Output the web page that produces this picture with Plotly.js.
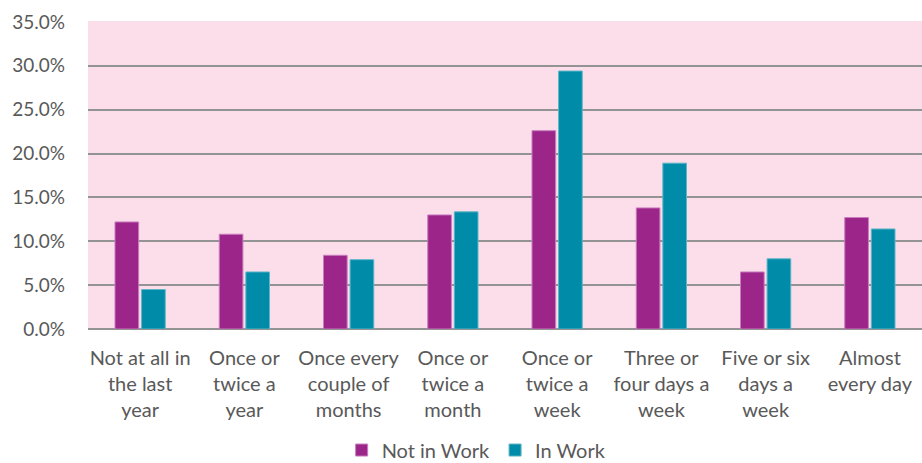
<!DOCTYPE html>
<html>
<head>
<meta charset="utf-8">
<script src="https://cdn.plot.ly/plotly-3.0.1.min.js"></script>
<style>html,body{margin:0;padding:0;background:#fff;}#chart{width:922px;height:463px;}</style>
</head>
<body>
<div id="chart"></div>
<script>
var categories = [
  "Not at all in<br>the last<br>year",
  "Once or<br>twice a<br>year",
  "Once every<br>couple of<br>months",
  "Once or<br>twice a<br>month",
  "Once or<br>twice a<br>week",
  "Three or<br>four days a<br>week",
  "Five or six<br>days a<br>week",
  "Almost<br>every day"
];
var notInWork = [12.2, 10.8, 8.4, 13.0, 22.6, 13.8, 6.5, 12.7];
var inWork    = [4.5, 6.5, 7.9, 13.35, 29.4, 18.9, 8.0, 11.4];
var seriesNames = ["Not in Work", "In Work"];
var yTicks = [0, 5, 10, 15, 20, 25, 30, 35];
var yTickText = yTicks.map(function (v) { return v.toFixed(1) + "%"; });

var FONT = "Lato, 'Open Sans', sans-serif";
var traces = [
  {type: "bar", name: seriesNames[0], x: categories, y: notInWork,
   marker: {color: "#9B2589", line: {color: "#C87DBE", width: 1}}},
  {type: "bar", name: seriesNames[1], x: categories, y: inWork,
   marker: {color: "#008CA8", line: {color: "#5DB5C8", width: 1}}}
];
var layout = {
  width: 922, height: 463,
  margin: {l: 88, r: 0, t: 20.5, b: 133.5},
  paper_bgcolor: "#ffffff",
  plot_bgcolor: "#FCDEEA",
  barmode: "group",
  bargap: 0.49,
  bargroupgap: 0.11,
  font: {family: FONT, size: 19, color: "#595959"},
  xaxis: {
    type: "category",
    automargin: false,
    showgrid: false,
    showline: false,
    ticks: "",
    tickfont: {family: FONT, size: 20, color: "#595959"},
    ticklabelstandoff: 15
  },
  yaxis: {
    range: [0, 35.1],
    automargin: false,
    tickvals: yTicks,
    ticktext: yTickText,
    showgrid: true,
    gridcolor: "#939393",
    gridwidth: 2,
    zeroline: true,
    zerolinecolor: "#939393",
    zerolinewidth: 2,
    showline: false,
    ticks: "",
    ticklabelstandoff: 22,
    tickfont: {family: FONT, size: 19, color: "#595959"}
  },
  legend: {
    orientation: "h",
    x: 0.466, xanchor: "center",
    yref: "container",
    y: 0.028, yanchor: "middle",
    font: {family: FONT, size: 20, color: "#595959"},
    itemwidth: 30,
    tracegroupgap: 0
  },
  showlegend: true
};
Plotly.newPlot("chart", traces, layout, {staticPlot: true, displayModeBar: false});
</script>
</body>
</html>
